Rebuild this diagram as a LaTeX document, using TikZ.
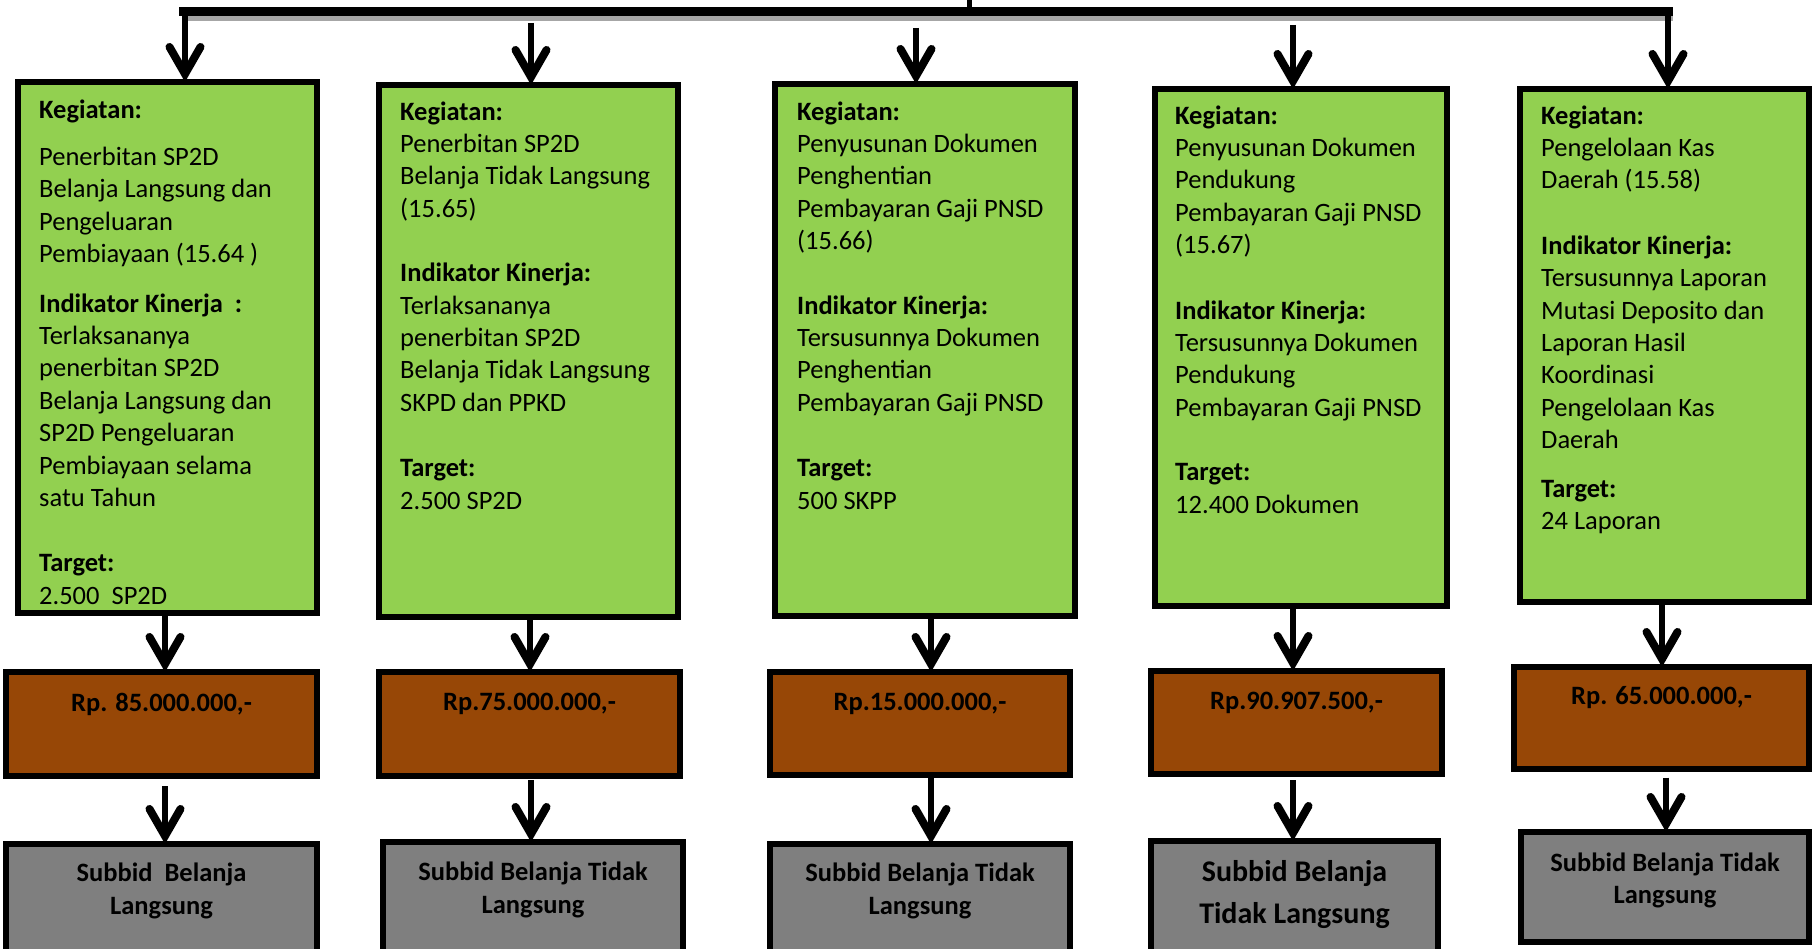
\documentclass[tikz,border=0pt]{standalone}
\usepackage{fontspec}
\setmainfont{Carlito}
\usetikzlibrary{arrows.meta}
\definecolor{grn}{HTML}{92D050}
\definecolor{brn}{HTML}{974706}
\definecolor{gry}{HTML}{7F7F7F}
\begin{document}
\begin{tikzpicture}[x=1pt,y=-1pt,
  box/.style={draw=black, line width=6pt, inner sep=0pt, outer sep=0pt},
  gbox/.style={box, fill=grn},
  bbox/.style={box, fill=brn},
  ybox/.style={box, fill=gry},
  gtext/.style={anchor=north west, inner sep=0pt, align=left, font=\fontsize{26.5}{32.4}\selectfont},
  btext/.style={inner sep=0pt, font=\fontsize{26.5}{32}\selectfont\bfseries},
  ytext/.style={inner sep=0pt, align=center, font=\fontsize{26.5}{32.4}\selectfont\bfseries},
  arr/.style={line width=6.5pt, -{Straight Barb[length=27pt,width=31pt,line width=8pt,line cap=round,line join=miter]}},
  bar/.style={line width=9.5pt}
]
\useasboundingbox (0,0) rectangle (1813,949);

% root bar
\coordinate (root) at (969,0);
\coordinate (rootb) at (969,9);
\coordinate (barL) at (179,11.5);
\coordinate (barR) at (1673,11.5);
\coordinate (shL) at (188,18.5);
\coordinate (shR) at (1673,18.5);
\draw[line width=4.5pt, gray!70] (shL) -- (shR);
\draw[bar] (barL) -- (barR);
\draw[line width=5pt] (root) -- (rootb);

% green boxes
\node[gbox, minimum width=299, minimum height=531] (g1) at (167.5,347.5) {};
\node[gbox, minimum width=299, minimum height=532] (g2) at (528.5,351) {};
\node[gbox, minimum width=300, minimum height=532] (g3) at (925,350) {};
\node[gbox, minimum width=292, minimum height=517] (g4) at (1301,347.5) {};
\node[gbox, minimum width=289, minimum height=513] (g5) at (1664.5,345.5) {};

\node[gtext] (g1t) at (39,95.3) {\strut\textbf{Kegiatan:}\\[15pt]
Penerbitan SP2D\\
Belanja Langsung dan\\
Pengeluaran\\
Pembiayaan (15.64 )\\[17pt]
\textbf{Indikator Kinerja\ \ :}\\
Terlaksananya\\
penerbitan SP2D\\
Belanja Langsung dan\\
SP2D Pengeluaran\\
Pembiayaan selama\\
satu Tahun\\[33pt]
\textbf{Target:}\\
2.500\ \ SP2D};

\node[gtext] (g2t) at (400,97.3) {\strut\textbf{Kegiatan:}\\
Penerbitan SP2D\\
Belanja Tidak Langsung\\
(15.65)\\[32pt]
\textbf{Indikator Kinerja:}\\
Terlaksananya\\
penerbitan SP2D\\
Belanja Tidak Langsung\\
SKPD dan PPKD\\[33pt]
\textbf{Target:}\\
2.500 SP2D};

\node[gtext] (g3t) at (797,97.3) {\strut\textbf{Kegiatan:}\\
Penyusunan Dokumen\\
Penghentian\\
Pembayaran Gaji PNSD\\
(15.66)\\[32pt]
\textbf{Indikator Kinerja:}\\
Tersusunnya Dokumen\\
Penghentian\\
Pembayaran Gaji PNSD\\[33pt]
\textbf{Target:}\\
500 SKPP};

\node[gtext] (g4t) at (1175,101.3) {\strut\textbf{Kegiatan:}\\
Penyusunan Dokumen\\
Pendukung\\
Pembayaran Gaji PNSD\\
(15.67)\\[33pt]
\textbf{Indikator Kinerja:}\\
Tersusunnya Dokumen\\
Pendukung\\
Pembayaran Gaji PNSD\\[32pt]
\textbf{Target:}\\
12.400 Dokumen};

\node[gtext] (g5t) at (1541,101.3) {\strut\textbf{Kegiatan:}\\
Pengelolaan Kas\\
Daerah (15.58)\\[33pt]
\textbf{Indikator Kinerja:}\\
Tersusunnya Laporan\\
Mutasi Deposito dan\\
Laporan Hasil\\
Koordinasi\\
Pengelolaan Kas\\
Daerah\\[16pt]
\textbf{Target:}\\
24 Laporan};

\draw[line width=6pt] (g1.south west) rectangle (g1.north east);

% brown boxes
\node[bbox, minimum width=311, minimum height=104] (b1) at (161.5,724) {};
\node[bbox, minimum width=301, minimum height=104] (b2) at (529.5,724) {};
\node[bbox, minimum width=300, minimum height=103] (b3) at (920,723.5) {};
\node[bbox, minimum width=291, minimum height=103] (b4) at (1296.5,722.5) {};
\node[bbox, minimum width=295, minimum height=102] (b5) at (1661.5,718) {};

\node[btext] (b1t) at ([yshift=-32pt]b1.north) {Rp. 85.000.000,-};
\node[btext] (b2t) at ([yshift=-32pt]b2.north) {Rp.75.000.000,-};
\node[btext] (b3t) at ([yshift=-32pt]b3.north) {Rp.15.000.000,-};
\node[btext] (b4t) at ([yshift=-32pt]b4.north) {Rp.90.907.500,-};
\node[btext] (b5t) at ([yshift=-31pt]b5.north) {Rp. 65.000.000,-};

% gray boxes
\node[ybox, minimum width=311, minimum height=113] (y1) at (161.5,900.5) {};
\node[ybox, minimum width=300, minimum height=115] (y2) at (533,899.5) {};
\node[ybox, minimum width=300, minimum height=113] (y3) at (920,900.5) {};
\node[ybox, minimum width=287, minimum height=116] (y4) at (1294.5,899) {};
\node[ybox, minimum width=288, minimum height=110] (y5) at (1665,887) {};

\node[ytext] (y1t) at ([yshift=-47pt]y1.north) {Subbid\ \ Belanja\\Langsung};
\node[ytext] (y2t) at ([yshift=-48pt]y2.north) {Subbid Belanja Tidak\\Langsung};
\node[ytext] (y3t) at ([yshift=-47pt]y3.north) {Subbid Belanja Tidak\\Langsung};
\node[ytext, font=\fontsize{30}{41.6}\selectfont\bfseries] (y4t) at ([yshift=-53.5pt]y4.north) {Subbid Belanja\\Tidak Langsung};
\node[ytext] (y5t) at ([yshift=-48.7pt]y5.north) {Subbid Belanja Tidak\\Langsung};

% top arrows
\coordinate (t1) at (185,11.5);
\coordinate (t2) at (531,23);
\coordinate (t3) at (916,28);
\coordinate (t4) at (1293,25);
\coordinate (t5) at (1668,11.5);
\draw[arr] (t1) -- (g1.north -| t1);
\draw[arr] (t2) -- (g2.north -| t2);
\draw[arr] (t3) -- (g3.north -| t3);
\draw[arr] (t4) -- (g4.north -| t4);
\draw[arr] (t5) -- (g5.north -| t5);

% green -> brown
\draw[arr] ([xshift=-2.5pt]g1.south) -- ([xshift=3.5pt]b1.north);
\draw[arr] ([xshift=1.5pt]g2.south) -- ([xshift=0.5pt]b2.north);
\draw[arr] ([xshift=6pt]g3.south) -- ([xshift=11pt]b3.north);
\draw[arr] ([xshift=-8pt]g4.south) -- ([xshift=-3.5pt]b4.north);
\draw[arr] ([xshift=-2.5pt]g5.south) -- ([xshift=0.5pt]b5.north);

% brown -> gray
\draw[arr] ([xshift=3.5pt,yshift=-10pt]b1.south) -- ([xshift=3.5pt]y1.north);
\draw[arr] ([xshift=1.5pt,yshift=-4pt]b2.south) -- ([xshift=-2pt]y2.north);
\draw[arr] ([xshift=11pt]b3.south) -- ([xshift=11pt]y3.north);
\draw[arr] ([xshift=-3.5pt,yshift=-6pt]b4.south) -- ([xshift=-1.5pt]y4.north);
\draw[arr] ([xshift=4.5pt,yshift=-8.5pt]b5.south) -- ([xshift=1pt]y5.north);
\end{tikzpicture}
\end{document}
